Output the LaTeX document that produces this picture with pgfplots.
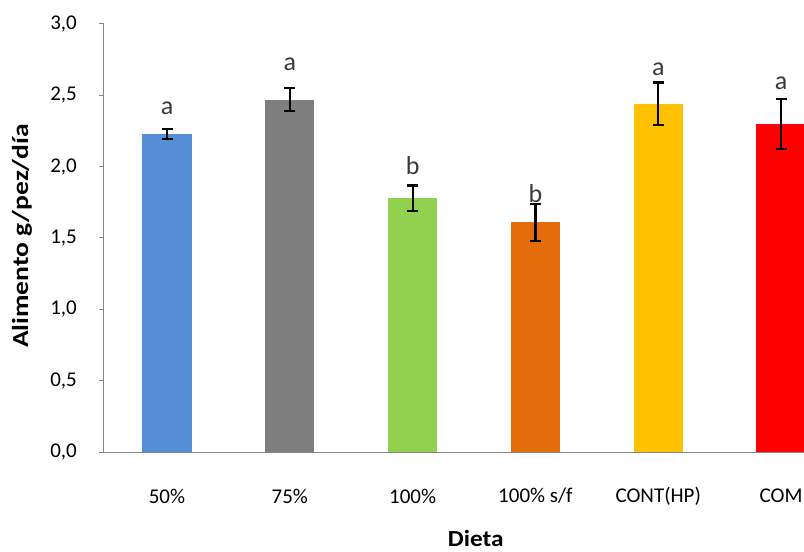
\documentclass[border=0pt]{standalone}
\usepackage{pgfplots}
\pgfplotsset{compat=1.18}
\usepackage{graphicx}
\usepackage{fontspec}
\setmainfont{Carlito}

\definecolor{cBlue}{HTML}{558ED5}
\definecolor{cGray}{HTML}{7F7F7F}
\definecolor{cGreen}{HTML}{92D050}
\definecolor{cOrange}{HTML}{E46C0A}
\definecolor{cGold}{HTML}{FFC000}
\definecolor{cRed}{HTML}{FF0000}
\definecolor{axisgray}{HTML}{868686}
\definecolor{lettergray}{HTML}{3A3A3A}

\pgfplotsset{
  dietbar/.style={
    ybar, bar shift=0pt, bar width=0.4, draw=none, fill=#1,
    error bars/.cd, y dir=both, y explicit,
    error bar style={draw=black, line width=2.2pt},
    error mark options={draw=black, line width=2.2pt, mark size=5.5pt, rotate=90}
  }
}

\begin{document}
\begin{tikzpicture}
\begin{axis}[
  scale only axis,
  width=700pt, height=428pt,
  xmin=-0.513, xmax=5.187,
  ymin=0, ymax=3,
  axis x line*=bottom, axis y line*=left,
  axis line style={axisgray, line width=1pt},
  xtick={0,1,2,3,4,5},
  xticklabels={50\%,75\%,100\%,100\% s/f,CONT(HP),COM},
  x tick style={draw=none},
  ytick={0,0.5,...,3},
  y tick style={axisgray, line width=1pt},
  tick align=outside, major tick length=5pt,
  /pgf/number format/use comma,
  /pgf/number format/fixed,
  /pgf/number format/fixed zerofill,
  /pgf/number format/precision=1,
  /pgf/number format/assume math mode=true,
  ticklabel style={font=\fontsize{21}{25}\selectfont, black},
  yticklabel style={anchor=east, inner sep=0pt, xshift=-22pt},
  xticklabel style={anchor=center, inner sep=0pt, yshift=-39pt},
  xlabel={\scalebox{1.1}[1]{Dieta}},
  xlabel style={font=\fontsize{23}{28}\selectfont\bfseries, inner sep=0pt, at={(axis description cs:0.531,0)}, anchor=center, yshift=-87pt},
  ylabel={\scalebox{1.2}[1]{Alimento g/pez/día}},
  ylabel style={font=\fontsize{23}{27}\selectfont\bfseries, at={(axis description cs:-0.117,0.505)}, anchor=center},
  clip=true,
]
\addplot[dietbar=cBlue]   coordinates {(0,2.23) +- (0,0.036)};
\addplot[dietbar=cGray]   coordinates {(1,2.47) +- (0,0.080)};
\addplot[dietbar=cGreen]  coordinates {(2,1.78) +- (0,0.088)};
\addplot[dietbar=cOrange] coordinates {(3,1.61) +- (0,0.130)};
\addplot[dietbar=cGold]   coordinates {(4,2.44) +- (0,0.150)};
\addplot[dietbar=cRed]    coordinates {(5,2.30) +- (0,0.175)};

% significance letters
\begin{scope}[every node/.style={anchor=base, inner sep=0pt, text=lettergray, font=\fontsize{26}{30}\selectfont}]
\node at (axis cs:0,2.369) {a};
\node at (axis cs:1,2.676) {a};
\node at (axis cs:2,1.946) {b};
\node at (axis cs:3,1.748) {b};
\node at (axis cs:4,2.638) {a};
\node at (axis cs:5,2.544) {a};
\end{scope}

\coordinate (bl) at (rel axis cs:0,0);
\coordinate (tr) at (rel axis cs:1,1);
\end{axis}
\pgfresetboundingbox
\path ([shift={(-104pt,-99pt)}]bl) rectangle ([shift={(0pt,24pt)}]tr);
\end{tikzpicture}
\end{document}
